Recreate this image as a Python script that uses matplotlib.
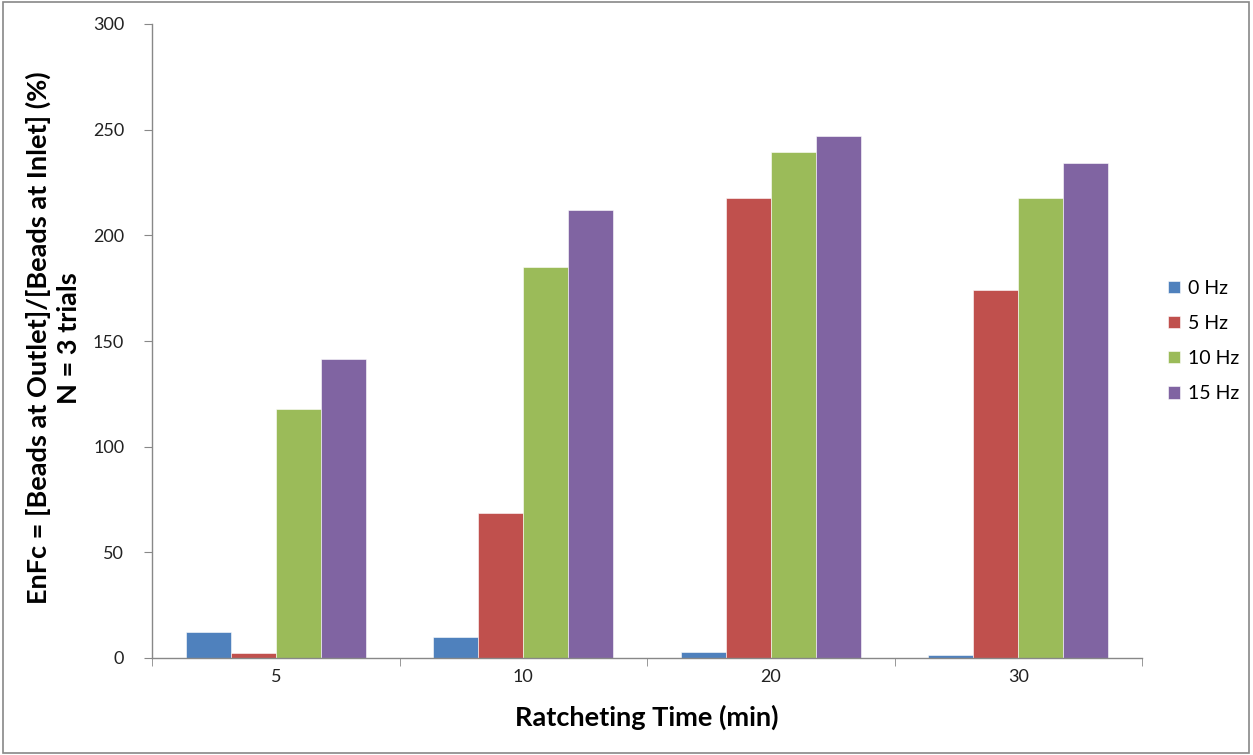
import numpy as np
import matplotlib.pyplot as plt
from matplotlib.patches import Rectangle

plt.rcParams['font.family'] = ['Lato', 'DejaVu Sans']

# datos
times = ['5', '10', '20', '30']
series = ['0 Hz', '5 Hz', '10 Hz', '15 Hz']
hz0 = [12.3, 9.8, 3.0, 1.3]
hz5 = [2.5, 68.7, 217.8, 174.2]
hz10 = [117.8, 184.8, 239.2, 217.8]
hz15 = [141.6, 212.2, 246.8, 234.3]
colors = ['#4F81BD', '#C0504D', '#9BBB59', '#8064A2']

W, H = 1253, 755
fig = plt.figure(figsize=(W / 100, H / 100), dpi=100)
ax = fig.add_axes([152 / W, 1 - 658 / H, 990 / W, 634 / H])

x = np.arange(len(times))
w = 1 / 5.5
for i, (vals, lab, c) in enumerate(zip([hz0, hz5, hz10, hz15], series, colors)):
    ax.bar(x + (i - 1.5) * w, vals, w, color=c, label=lab,
           edgecolor='white', linewidth=0.4)

ax.set_xlim(-0.5, len(times) - 0.5)
ax.set_ylim(0, 300)
ax.set_yticks(range(0, 301, 50))
ax.set_xticks(x)
ax.set_xticklabels(times)
ax.set_xticks(np.arange(-0.5, len(times)), minor=True)
ax.tick_params(axis='x', which='major', length=0, pad=8, labelsize=13)
ax.tick_params(axis='x', which='minor', length=6, color='#888888', direction='out')
ax.tick_params(axis='y', length=6, color='#888888', labelsize=13, pad=14)
for lbl in ax.get_yticklabels() + ax.get_xticklabels():
    lbl.set_color('#222222')

for s in ['top', 'right']:
    ax.spines[s].set_visible(False)
for s in ['left', 'bottom']:
    ax.spines[s].set_color('#888888')
    ax.spines[s].set_linewidth(1)

ax.set_xlabel('Ratcheting Time (min)', fontsize=19.5, fontweight='bold', labelpad=14)
fig.text(53 / W, 1 - 338 / H,
         'EnFc = [Beads at Outlet]/[Beads at Inlet] (%)\nN = 3 trials',
         rotation=90, ha='center', va='center', multialignment='center',
         fontsize=19.5, fontweight='bold', linespacing=1.3)

ax.legend(loc='center left', bbox_to_anchor=(1.018, 0.5), frameon=False,
          fontsize=14, handlelength=0.62, handleheight=0.62, labelspacing=0.93,
          handletextpad=0.45, borderaxespad=0)

# marco exterior
fig.patches.append(Rectangle((0.002, 0.002), 0.995, 0.995, transform=fig.transFigure,
                             fill=False, edgecolor='#888888', linewidth=1.2))

plt.savefig('out.png', dpi=100)
plt.close()
